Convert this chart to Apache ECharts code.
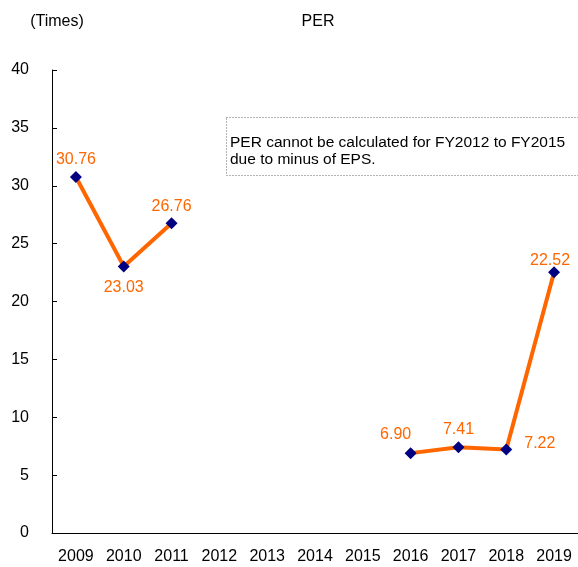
<!DOCTYPE html>
<html>
<head>
<meta charset="utf-8">
<script src="https://cdn.jsdelivr.net/npm/echarts@6/dist/echarts.min.js"></script>
<style>
    html, body { margin: 0; padding: 0; background: #fff; }
    #main { width: 578px; height: 567px; }
</style>
</head>
<body>
<div id="main"></div>
<script>
    var years = ['2009', '2010', '2011', '2012', '2013', '2014', '2015', '2016', '2017', '2018', '2019'];
    var perValues = [30.76, 23.03, 26.76, null, null, null, null, 6.90, 7.41, 7.22, 22.52];
    // where each value label sits
    var labelSides = ['top', 'bottom', 'top', null, null, null, null, 'top', 'top', 'right', 'top'];
    var yTicks = [0, 5, 10, 15, 20, 25, 30, 35, 40];

    var font = '"Liberation Sans", Arial, sans-serif';

    // small per-point nudges so labels sit like the original
    var labelShift = {
        0: { distance: 3 },
        1: { distance: 7 },
        2: { distance: 3 },
        7: { distance: 5, offset: [-15, 0] },
        8: { distance: 4 },
        9: { distance: 12, offset: [0, -6] },
        10: { distance: -2, offset: [-4, 0] }
    };

    var points = perValues.map(function(v, i){
        if (v === null) return null;
        var lb = { position: labelSides[i] };
        if (labelShift[i]) {
            lb.distance = labelShift[i].distance;
            if (labelShift[i].offset) lb.offset = labelShift[i].offset;
        }
        return { value: v, label: lb };
    });

    var myChart = echarts.init(document.getElementById('main'));
    var option = {
        animation: false,
        backgroundColor: '#fff',
        title: {
            text: 'PER',
            left: 313,
            top: 9,
            textAlign: 'center',
            textStyle: { fontFamily: font, fontSize: 16, fontWeight: 'normal', color: '#000' }
        },
        grid: { left: 52, right: -2, top: 70, bottom: 34 },
        xAxis: {
            type: 'category',
            data: years,
            boundaryGap: true,
            axisLine: { lineStyle: { color: '#000', width: 1 } },
            axisTick: { inside: true, length: 5, lineStyle: { color: '#000' } },
            axisLabel: { color: '#000', fontFamily: font, fontSize: 16, margin: 16 }
        },
        yAxis: {
            type: 'value',
            min: yTicks[0],
            max: yTicks[yTicks.length - 1],
            interval: 5,
            name: '(Times)',
            nameLocation: 'end',
            nameGap: 40,
            nameTextStyle: { color: '#000', fontFamily: font, fontSize: 16, align: 'center', padding: [0, 0, 0, 10] },
            splitLine: { show: false },
            axisLine: { show: true, lineStyle: { color: '#000', width: 1 } },
            axisTick: { show: true, inside: true, length: 5, lineStyle: { color: '#000' } },
            axisLabel: { color: '#000', fontFamily: font, fontSize: 16, margin: 23 }
        },
        graphic: [
            {
                type: 'rect',
                left: 226,
                top: 117,
                shape: { width: 360, height: 58 },
                style: { fill: '#fff', stroke: '#666', lineWidth: 1, lineDash: [1, 2] }
            },
            {
                type: 'text',
                left: 230,
                top: 134,
                style: {
                    text: 'PER cannot be calculated for FY2012 to FY2015\ndue to minus of EPS.',
                    font: '15.5px ' + font,
                    fill: '#000',
                    lineHeight: 17
                }
            }
        ],
        series: [
            {
                type: 'line',
                data: points,
                connectNulls: false,
                symbol: 'diamond',
                symbolSize: 12,
                lineStyle: { color: '#FF6600', width: 4 },
                itemStyle: { color: '#000080' },
                label: {
                    show: true,
                    color: '#FF6600',
                    fontFamily: font,
                    fontSize: 16,
                    formatter: function(p){ return p.value.toFixed(2); }
                },
                z: 3
            }
        ]
    };
    myChart.setOption(option);
</script>
</body>
</html>
